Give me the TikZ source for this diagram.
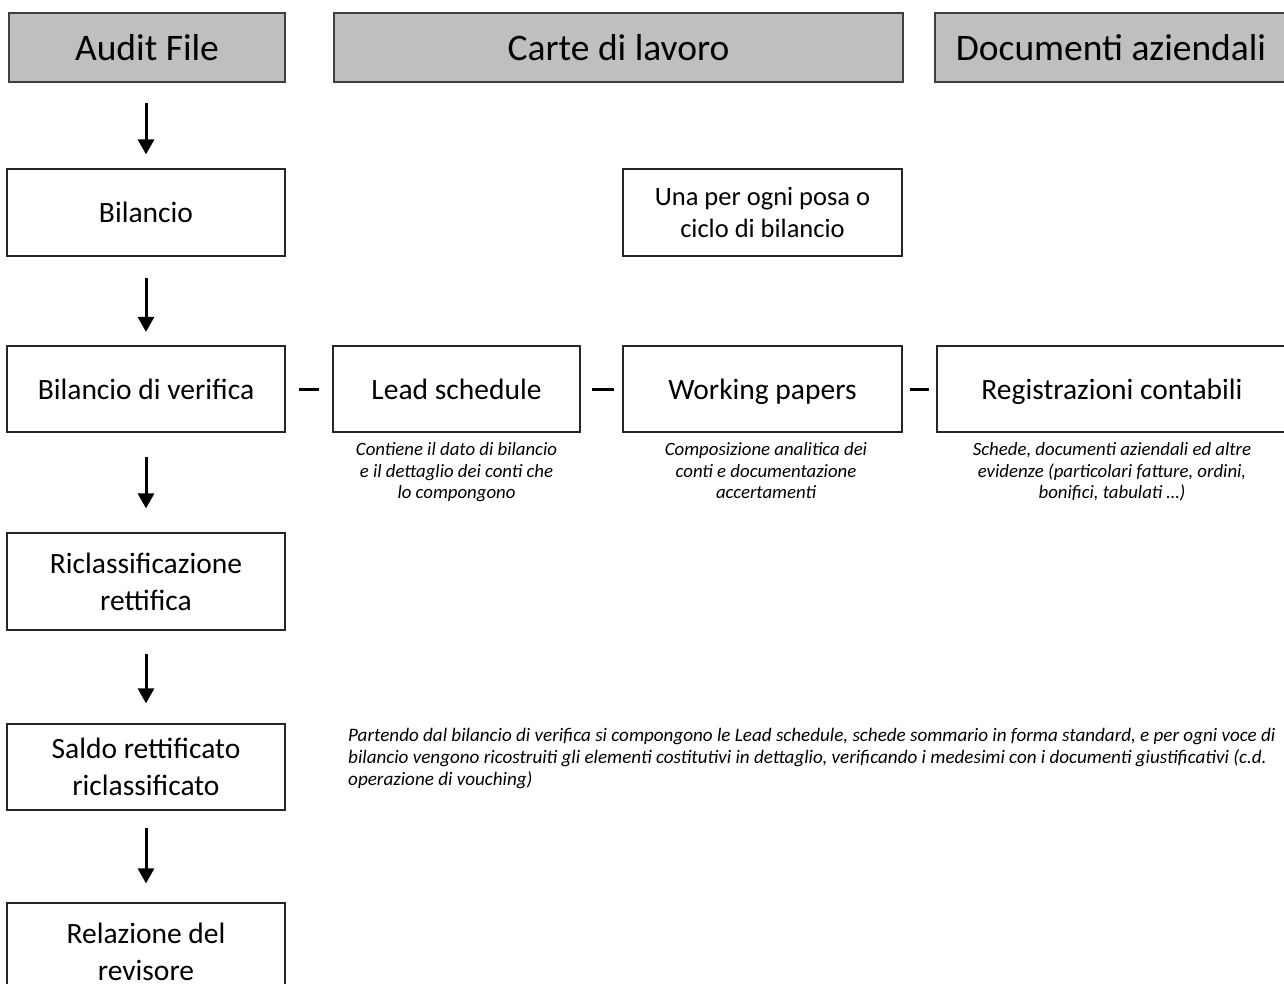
\documentclass[tikz,border=0pt]{standalone}
\usepackage{fontspec}
\setmainfont{Carlito}
\usetikzlibrary{arrows.meta}
\begin{document}
\begin{tikzpicture}[x=1pt,y=-1pt,
  hdr/.style={draw=black!75, fill=black!25, line width=1.2pt, minimum height=69pt,
    inner sep=0pt, font=\fontsize{37.5}{44}\selectfont},
  box/.style={draw=black!85, line width=1.2pt, inner sep=0pt, align=center,
    minimum height=87pt, font=\fontsize{29.5}{37}\selectfont},
  oneline/.style={text height=21pt, text depth=0pt},
  note/.style={inner sep=0pt, align=center, font=\fontsize{18.8}{21.8}\itshape\selectfont},
  flow/.style={line width=3pt, -{Triangle[width=16pt,length=15pt]}},
  link/.style={line width=3pt},
]
\useasboundingbox (0,0) rectangle (1284,984);
\clip (0,0) rectangle (1284,984);

% column headers
\node[hdr, minimum width=276pt] (audit) at (147,47.5) {Audit File};
\node[hdr, minimum width=569pt] (carte) at (618.5,47.5) {Carte di lavoro};
\node[hdr, minimum width=352pt] (docs) at (1111,47.5) {Documenti aziendali};

% audit file column
\node[box, oneline, minimum width=278pt] (bil) at (146,212.5) {Bilancio};
\node[box, oneline, minimum width=278pt, minimum height=86pt] (bv) at (146,389) {Bilancio di verifica};
\node[box, minimum width=278pt, minimum height=97pt] (ric) at (146,581.5) {Riclassificazione\\rettifica};
\node[box, minimum width=278pt, minimum height=86pt] (sal) at (146,767) {Saldo rettificato\\riclassificato};
\node[box, minimum width=278pt, minimum height=97pt] (rel) at (146,951.5) {Relazione del\\revisore};

% working papers row
\node[box, minimum width=279pt, font=\fontsize{26.5}{32.5}\selectfont] (una) at (762.5,212.5) {Una per ogni posa o\\ciclo di bilancio};
\node[box, oneline, minimum width=247pt, minimum height=86pt] (ls) at (456.5,389) {Lead schedule};
\node[box, oneline, minimum width=279pt, minimum height=86pt] (wp) at (762.5,389) {Working papers};
\node[box, oneline, minimum width=350pt, minimum height=86pt] (reg) at (1112,389) {Registrazioni contabili};

% descriptions
\node[note, anchor=north] (n1) at (456.5,442) {Contiene il dato di bilancio\\e il dettaglio dei conti che\\lo compongono};
\node[note, anchor=north] (n2) at (766,442) {Composizione analitica dei\\conti e documentazione\\accertamenti};
\node[note, anchor=north] (n3) at (1112,442) {Schede, documenti aziendali ed altre\\evidenze (particolari fatture, ordini,\\bonifici, tabulati …)};
\node[note, align=left, anchor=north west, font=\fontsize{19.1}{21.8}\itshape\selectfont] (n4) at (348,728) {Partendo dal bilancio di verifica si compongono le Lead schedule, schede sommario in forma standard, e per ogni voce di\\bilancio vengono ricostruiti gli elementi costitutivi in dettaglio, verificando i medesimi con i documenti giustificativi (c.d.\\operazione di vouching)};

% flow arrows
\draw[flow, shorten <=20pt, shorten >=14pt] (audit.south -| bil.north) -- (bil.north);
\draw[flow, shorten <=21pt, shorten >=13.5pt] (bil.south) -- (bv.north);
\draw[flow, shorten <=24pt, shorten >=24pt] (bv.south) -- (ric.north);
\draw[flow, shorten <=23pt, shorten >=20pt] (ric.south) -- (sal.north);
\draw[flow, shorten <=17pt, shorten >=19pt] (sal.south) -- (rel.north);

% links between row boxes
\draw[link, shorten <=13pt, shorten >=13pt] (bv.east) -- (ls.west);
\draw[link, shorten <=11pt, shorten >=8pt] (ls.east) -- (wp.west);
\draw[link, shorten <=7pt, shorten >=7pt] (wp.east) -- (reg.west);
\end{tikzpicture}
\end{document}
